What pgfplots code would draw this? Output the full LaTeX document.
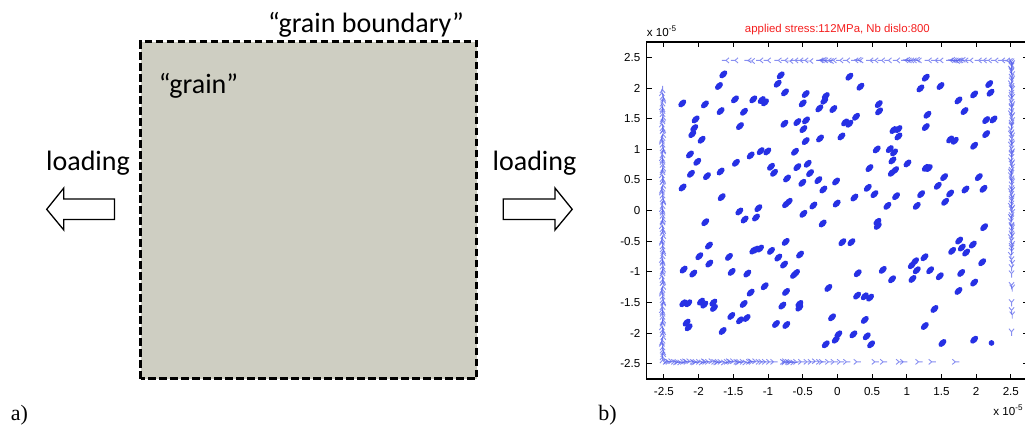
\documentclass[border=0pt]{standalone}
\usepackage{pgfplots}
\pgfplotsset{compat=1.18}
\usepackage{fontspec}
\setmainfont{Liberation Serif}
\newfontfamily\calibri{Carlito}
\newfontfamily\arial{Liberation Sans}
\definecolor{dotblue}{RGB}{38,48,228}
\definecolor{bndblue}{RGB}{85,95,235}
\definecolor{graingray}{RGB}{206,206,194}
\definecolor{ttlred}{RGB}{245,30,30}
\pgfdeclareplotmark{blob}{%
  \pgfpathellipse{\pgfpointorigin}{\pgfpoint{1.7pt}{1.7pt}}{\pgfpoint{-1.05pt}{1.05pt}}%
  \pgfusepathqfill}
\pgfdeclareplotmark{tri}{%
  \pgfpathmoveto{\pgfpointorigin}\pgfpathlineto{\pgfpoint{-2pt}{0pt}}%
  \pgfpathmoveto{\pgfpointorigin}\pgfpathlineto{\pgfpointpolar{40}{2pt}}%
  \pgfpathmoveto{\pgfpointorigin}\pgfpathlineto{\pgfpointpolar{-40}{2pt}}%
  \pgfusepathqstroke}
\begin{document}
\begin{tikzpicture}[x=0.5pt,y=0.5pt]
% ---------- panel a ----------
\fill[graingray] (140.8,50) rectangle (476.5,387.3);
\draw[black, line width=1.5pt, dash pattern=on 3.75pt off 1.75pt] (140.8,50) rectangle (476.5,387.3);
\node[anchor=base, inner sep=0pt, font=\calibri\fontsize{14}{16}\selectfont] at (366,396) {“grain boundary”};
\node[anchor=base west, inner sep=0pt, font=\calibri\fontsize{14}{16}\selectfont] at (158.5,335.7) {“grain”};
\node[anchor=base, inner sep=0pt, font=\calibri\fontsize{14}{16}\selectfont] at (88,258.3) {loading};
\node[anchor=base, inner sep=0pt, font=\calibri\fontsize{14}{16}\selectfont] at (534.5,258.3) {loading};
\draw[black, line width=0.65pt, fill=white] (46.7,219.7) -- (63.8,241) -- (63.8,230) -- (114.5,230) -- (114.5,209.5) -- (63.8,209.5) -- (63.8,199) -- cycle;
\draw[black, line width=0.65pt, fill=white] (572.2,219.7) -- (555,241) -- (555,230) -- (503.3,230) -- (503.3,209.5) -- (555,209.5) -- (555,199) -- cycle;
\node[anchor=base west, inner sep=0pt, font=\fontsize{11}{13}\selectfont] at (10.5,8) {a)};
\node[anchor=base west, inner sep=0pt, font=\fontsize{11}{13}\selectfont] at (598,8) {b)};
% ---------- panel b ----------
\begin{axis}[at={(323.3pt,25pt)}, anchor=south west,
  width=190.8pt, height=168.5pt, scale only axis,
  xmin=-2.75, xmax=2.75, ymin=-2.75, ymax=2.75,
  xtick={-2.5,-2,-1.5,-1,-0.5,0,0.5,1,1.5,2,2.5},
  xticklabels={-2.5,-2,-1.5,-1,-0.5,0,0.5,1,1.5,2,2.5},
  ytick={-2.5,-2,-1.5,-1,-0.5,0,0.5,1,1.5,2,2.5},
  yticklabels={-2.5,-2,-1.5,-1,-0.5,0,0.5,1,1.5,2,2.5},
  tick align=inside, major tick length=2.5pt,
  tick style={black, line width=0.45pt},
  axis line style={black, line width=0.75pt},
  ticklabel style={font=\arial\fontsize{5.8}{6.5}\selectfont},
  xticklabel style={yshift=-0.8pt},
  yticklabel style={xshift=0.4pt},
  clip=false]
% boundary: top
\addplot[only marks, mark=tri, draw=bndblue, mark options={line width=0.45pt, draw opacity=0.7}] coordinates {
(-1.606,2.45) (-1.476,2.45) (-1.284,2.45) (-1.236,2.44) (-1.115,2.45) (-1.005,2.45) (-0.851,2.45) (-0.755,2.45) (-0.683,2.44) (-0.611,2.45) (-0.538,2.45) (-0.466,2.45) (-0.394,2.44) (-0.25,2.45) (-0.23,2.45) (-0.202,2.46) (-0.18,2.45) (-0.13,2.45) (-0.10,2.44) (-0.058,2.45) (0.038,2.45) (0.135,2.45) (0.255,2.45) (0.30,2.46) (0.327,2.45) (0.471,2.45) (0.543,2.45) (0.639,2.45) (0.736,2.45) (0.856,2.45) (0.976,2.45) (1.0,2.46) (1.024,2.45) (1.06,2.45) (1.096,2.45) (1.14,2.46) (1.168,2.45) (1.313,2.45) (1.409,2.45) (1.481,2.45) (1.625,2.45) (1.65,2.46) (1.673,2.45) (1.70,2.45) (1.721,2.44) (1.745,2.45) (1.769,2.45) (1.80,2.46) (1.841,2.45) (1.913,2.45) (2.034,2.45) (2.106,2.45) (2.178,2.45) (2.274,2.45) (2.370,2.45) (2.442,2.45) (2.48,2.44)};
% boundary: bottom
\addplot[only marks, mark=tri, draw=bndblue, mark options={rotate=180, line width=0.45pt, draw opacity=0.7}] coordinates {
(-2.47,-2.47) (-2.45,-2.46) (-2.43,-2.47) (-2.39,-2.46) (-2.35,-2.47) (-2.32,-2.48) (-2.30,-2.47) (-2.26,-2.48) (-2.22,-2.47) (-2.19,-2.46) (-2.17,-2.47) (-2.13,-2.46) (-2.08,-2.47) (-2.06,-2.48) (-2.04,-2.47) (-1.99,-2.47) (-1.95,-2.48) (-1.92,-2.46) (-1.90,-2.47) (-1.86,-2.47) (-1.81,-2.46) (-1.77,-2.47) (-1.74,-2.48) (-1.72,-2.47) (-1.68,-2.47) (-1.63,-2.48) (-1.59,-2.47) (-1.56,-2.46) (-1.54,-2.47) (-1.50,-2.46) (-1.45,-2.47) (-1.43,-2.48) (-1.41,-2.47) (-1.36,-2.47) (-1.32,-2.48) (-1.27,-2.47) (-1.25,-2.46) (-1.23,-2.47) (-1.18,-2.46) (-1.13,-2.47) (-1.09,-2.47) (-1.04,-2.47) (-0.98,-2.47) (-0.92,-2.47) (-0.78,-2.47) (-0.76,-2.48) (-0.75,-2.46) (-0.71,-2.47) (-0.69,-2.48) (-0.67,-2.47) (-0.63,-2.48) (-0.59,-2.47) (-0.52,-2.47) (-0.44,-2.47) (-0.38,-2.47) (-0.32,-2.46) (-0.26,-2.47) (-0.22,-2.47) (-0.13,-2.47) (-0.05,-2.47) (0.04,-2.47) (0.13,-2.47) (0.28,-2.47) (0.54,-2.47) (0.66,-2.47) (0.89,-2.47) (0.95,-2.47) (1.17,-2.47) (1.36,-2.47) (1.70,-2.47)};
% boundary: left
\addplot[only marks, mark=tri, draw=bndblue, mark options={rotate=-90, line width=0.45pt, draw opacity=0.7}] coordinates {
(-2.52,1.97) (-2.53,1.92) (-2.52,1.86) (-2.51,1.83) (-2.51,1.80) (-2.52,1.75) (-2.53,1.69) (-2.52,1.66) (-2.52,1.63) (-2.52,1.58) (-2.51,1.52) (-2.52,1.49) (-2.52,1.46) (-2.53,1.41) (-2.52,1.35) (-2.51,1.32) (-2.52,1.30) (-2.51,1.24) (-2.52,1.19) (-2.53,1.16) (-2.53,1.13) (-2.52,1.08) (-2.52,1.02) (-2.51,0.99) (-2.51,0.97) (-2.52,0.91) (-2.53,0.86) (-2.52,0.83) (-2.52,0.80) (-2.52,0.75) (-2.51,0.69) (-2.52,0.66) (-2.52,0.63) (-2.53,0.58) (-2.52,0.52) (-2.51,0.49) (-2.52,0.47) (-2.51,0.41) (-2.52,0.36) (-2.53,0.33) (-2.53,0.30) (-2.52,0.25) (-2.52,0.19) (-2.51,0.16) (-2.51,0.14) (-2.52,0.08) (-2.53,0.03) (-2.52,0.00) (-2.52,-0.03) (-2.52,-0.08) (-2.51,-0.14) (-2.52,-0.17) (-2.52,-0.19) (-2.53,-0.25) (-2.52,-0.30) (-2.51,-0.33) (-2.52,-0.36) (-2.51,-0.41) (-2.52,-0.47) (-2.53,-0.50) (-2.53,-0.52) (-2.52,-0.58) (-2.52,-0.63) (-2.51,-0.66) (-2.51,-0.69) (-2.52,-0.74) (-2.53,-0.80) (-2.52,-0.83) (-2.52,-0.85) (-2.52,-0.91) (-2.51,-0.96) (-2.52,-0.99) (-2.52,-1.02) (-2.53,-1.07) (-2.52,-1.13) (-2.51,-1.16) (-2.52,-1.18) (-2.51,-1.24) (-2.52,-1.29) (-2.53,-1.32) (-2.53,-1.35) (-2.52,-1.40) (-2.52,-1.46) (-2.51,-1.49) (-2.51,-1.51) (-2.52,-1.57) (-2.53,-1.62) (-2.52,-1.65) (-2.52,-1.68) (-2.52,-1.73) (-2.51,-1.79) (-2.52,-1.82) (-2.52,-1.84) (-2.53,-1.90) (-2.52,-1.95) (-2.51,-1.98) (-2.52,-2.01) (-2.51,-2.06) (-2.52,-2.12) (-2.53,-2.15) (-2.53,-2.17) (-2.52,-2.23) (-2.52,-2.28) (-2.51,-2.31) (-2.51,-2.34) (-2.52,-2.39) (-2.52,-2.44)};
% boundary: right
\addplot[only marks, mark=tri, draw=bndblue, mark options={rotate=90, line width=0.45pt, draw opacity=0.7}] coordinates {
(2.51,2.43) (2.52,2.40) (2.51,2.38) (2.51,2.36) (2.50,2.31) (2.51,2.29) (2.51,2.27) (2.52,2.22) (2.51,2.18) (2.52,2.15) (2.51,2.12) (2.50,2.07) (2.51,2.03) (2.51,2.00) (2.52,1.98) (2.51,1.92) (2.51,1.88) (2.52,1.85) (2.50,1.83) (2.51,1.77) (2.52,1.73) (2.51,1.70) (2.51,1.68) (2.51,1.62) (2.50,1.58) (2.52,1.55) (2.51,1.53) (2.52,1.47) (2.51,1.43) (2.51,1.40) (2.51,1.38) (2.50,1.32) (2.51,1.27) (2.50,1.25) (2.52,1.22) (2.51,1.18) (2.51,1.12) (2.52,1.09) (2.50,1.07) (2.51,1.01) (2.52,0.96) (2.51,0.94) (2.51,0.92) (2.51,0.87) (2.50,0.81) (2.52,0.78) (2.51,0.76) (2.52,0.71) (2.51,0.66) (2.50,0.63) (2.51,0.61) (2.50,0.57) (2.51,0.52) (2.51,0.49) (2.52,0.47) (2.51,0.42) (2.51,0.36) (2.52,0.33) (2.50,0.31) (2.51,0.27) (2.52,0.22) (2.51,0.19) (2.51,0.16) (2.51,0.11) (2.50,0.07) (2.52,0.04) (2.51,0.02) (2.52,-0.03) (2.51,-0.08) (2.50,-0.11) (2.51,-0.13) (2.50,-0.18) (2.51,-0.24) (2.51,-0.26) (2.52,-0.28) (2.51,-0.33) (2.51,-0.38) (2.52,-0.41) (2.50,-0.44) (2.51,-0.49) (2.52,-0.55) (2.51,-0.58) (2.51,-0.61) (2.51,-0.66) (2.50,-0.73) (2.51,-0.80) (2.52,-0.86) (2.51,-0.93) (2.51,-1.03) (2.51,-1.22) (2.52,-1.26) (2.51,-1.50) (2.51,-1.63) (2.52,-1.70) (2.51,-1.98)};
% dislocations
\addplot[only marks, mark=blob, color=dotblue, mark options={fill=dotblue, draw=none}] coordinates {
(-1.644,2.222) (-1.707,2.032) (-2.236,1.748) (-1.909,1.732) (-1.476,1.814) (-1.683,1.623) (-1.212,1.814) (-1.091,1.803) (-1.043,1.765) (-1.346,1.612) (-0.817,2.206) (-0.861,2.070) (-0.755,1.928) (-0.457,1.901) (-0.500,1.748) (-0.168,1.868) (-0.188,1.792) (-0.260,1.667) (-0.058,1.656) (-2.043,1.487) (-2.063,1.345) (-2.091,1.247) (-1.957,1.155) (-1.404,1.378) (-0.764,1.416) (-0.577,1.443) (-0.452,1.471) (-0.490,1.329) (-0.457,1.133) (-0.250,1.176) (-2.125,0.915) (-2.019,0.795) (-2.111,0.599) (-1.880,0.561) (-1.683,0.637) (-1.462,0.779) (-1.250,0.899) (-1.106,0.969) (-1.010,0.964) (-0.957,0.714) (-0.913,0.615) (-0.611,0.959) (-0.577,0.708) (-0.428,0.763) (-0.394,0.610) (-0.726,0.523) (-0.505,0.452) (-0.274,0.496) (-0.202,0.343) (-0.019,0.474) (-2.231,0.376) (-1.668,0.218)
(0.173,2.184) (0.332,2.021) (0.596,1.737) (0.601,1.618) (0.111,1.438) (0.173,1.416) (0.269,1.530) (0.058,1.209) (0.567,0.997) (0.755,1.002) (0.817,0.948) (0.793,0.817) (0.808,1.313) (0.880,1.329) (0.880,1.209) (1.274,2.168) (1.197,1.993) (1.486,2.032) (1.745,1.797) (1.971,1.895) (2.188,2.064) (2.207,1.923) (1.832,1.623) (1.298,1.563) (1.274,1.362) (2.144,1.476) (2.250,1.487) (2.144,1.247) (1.625,1.160) (1.692,1.138) (1.971,1.057) (1.010,0.768) (0.462,0.692) (1.274,0.697) (1.317,0.692) (0.784,0.615) (0.832,0.659) (1.538,0.545) (2.038,0.545) (1.447,0.403) (0.438,0.370) (0.534,0.267) (0.245,0.212) (0.846,0.234) (1.207,0.267) (1.625,0.278) (1.846,0.343) (2.106,0.354)
(-1.413,-0.016) (-1.337,-0.147) (-1.139,0.038) (-1.173,-0.114) (-0.740,0.103) (-0.702,0.142) (-0.346,0.082) (-0.490,-0.054) (-0.212,-0.212) (-1.904,-0.191) (-1.851,-0.572) (-1.990,-0.746) (-1.846,-0.866) (-2.216,-0.964) (-2.077,-1.029) (-1.563,-0.757) (-1.524,-1.002) (-1.298,-1.029) (-1.212,-0.654) (-1.173,-0.637) (-1.115,-0.621) (-0.957,-0.659) (-0.851,-0.768) (-0.769,-0.882) (-0.745,-0.512) (-0.538,-0.719) (-0.596,-1.019) (-0.625,-1.051) (-1.048,-1.236) (-1.250,-1.340) (-1.351,-1.525) (-0.740,-1.329) (-0.793,-1.552) (-0.130,-1.264) (-2.221,-1.514) (-2.149,-1.514) (-1.966,-1.487) (-1.918,-1.536) (-1.788,-1.503) (-1.779,-1.590) (-0.548,-1.525) (-0.548,-1.585) (-2.173,-1.830) (-2.144,-1.906) (-1.529,-1.721) (-1.404,-1.792) (-1.308,-1.754) (-0.885,-1.852) (-0.736,-1.868) (-1.654,-1.966) (-0.168,-2.184)
(-0.010,0.114) (0.721,0.076) (1.144,0.076) (1.553,0.142) (0.577,-0.185) (0.582,-0.251) (0.072,-0.517) (0.202,-0.517) (2.115,-0.272) (1.755,-0.490) (1.654,-0.659) (1.793,-0.605) (1.856,-0.686) (1.952,-0.556) (2.087,-0.844) (1.255,-0.763) (1.120,-0.828) (1.072,-0.893) (1.144,-0.975) (1.082,-1.117) (1.337,-0.975) (1.476,-1.073) (1.784,-1.019) (1.971,-1.176) (1.745,-1.313) (0.654,-0.969) (0.788,-1.122) (0.293,-1.024) (0.284,-1.389) (0.394,-1.400) (0.471,-1.422) (-0.077,-1.743) (0.395,-1.786) (1.399,-1.607) (1.260,-1.885) (0.014,-2.021) (-0.024,-2.108) (0.231,-2.021) (0.423,-2.053) (0.486,-2.184) (1.514,-2.162) (1.971,-2.108)};
\addplot[only marks, mark=*, mark size=1.2pt, color=dotblue, mark options={fill=dotblue, draw=none}] coordinates {(2.221,-2.162)};
\end{axis}
\node[anchor=center, inner sep=0pt, text=ttlred, font=\arial\fontsize{5.7}{6.5}\selectfont] at (837.4,399.7) {applied stress:112MPa, Nb dislo:800};
\node[anchor=base west, inner sep=0pt, font=\arial\fontsize{5.8}{6.5}\selectfont] at (646.5,392.3) {x 10\textsuperscript{-5}};
\node[anchor=base east, inner sep=0pt, font=\arial\fontsize{5.8}{6.5}\selectfont] at (1024,13) {x 10\textsuperscript{-5}};
\pgfresetboundingbox
\path[use as bounding box] (0,0) rectangle (1025,429);
\end{tikzpicture}
\end{document}
